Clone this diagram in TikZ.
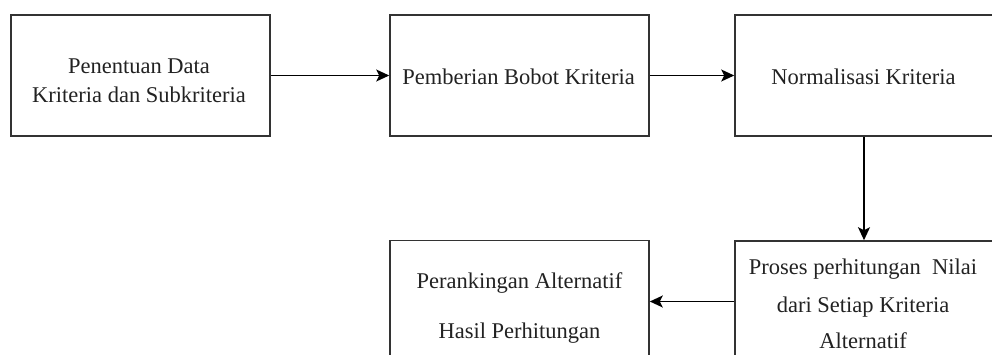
\documentclass[tikz,border=0pt]{standalone}
\usepackage{fontspec}
\setmainfont{Liberation Serif}
\usetikzlibrary{arrows.meta}
\definecolor{boxline}{HTML}{333333}
\definecolor{txtcol}{HTML}{222222}
\tikzset{
  box/.style={draw=boxline, line width=1.6pt, minimum height=121pt, inner sep=0pt},
  txt/.style={anchor=base, inner sep=0pt, text=txtcol, font=\fontsize{22.5}{27}\selectfont},
  arr/.style={draw=black, line width=1.6pt, -{Stealth[length=13pt,width=12pt,inset=3pt]}}
}
\begin{document}
\begin{tikzpicture}[x=1pt,y=-1pt]
\useasboundingbox (0,0) rectangle (992,355);
\clip (0,0) rectangle (992,355);
\fill[white] (0,0) rectangle (992,355);
% boxes
\node[box, minimum width=259pt] (b1) at (140.5,75.5) {};
\node[box, minimum width=259pt] (b2) at (519.5,75.5) {};
\node[box, minimum width=258pt] (b3) at (864,75.5) {};
\node[box, minimum width=258pt] (b4) at (864,301.5) {};
\node[box, minimum width=259pt] (b5) at (519.5,301) {};
% texts
\node[txt] (t1a) at (139,74) {Penentuan Data};
\node[txt] (t1b) at (139,103) {Kriteria dan Subkriteria};
\node[txt] (t2) at (518.5,85) {Pemberian Bobot Kriteria};
\node[txt] (t3) at (863.5,85) {Normalisasi Kriteria};
\node[txt] (t4a) at (863,274.5) {Proses perhitungan\ \ Nilai};
\node[txt] (t4b) at (863,312) {dari Setiap Kriteria};
\node[txt] (t4c) at (863,348) {Alternatif};
\node[txt] (t5a) at (519.5,288) {Perankingan Alternatif};
\node[txt] (t5b) at (519.5,338) {Hasil Perhitungan};
% connectors
\draw[arr] (b1.east) -- (b2.west);
\draw[arr] (b2.east) -- (b3.west);
\draw[arr] (b3.south) -- (b4.north);
\draw[arr] (b4.west) -- (b4.west -| b5.east);
\end{tikzpicture}
\end{document}
